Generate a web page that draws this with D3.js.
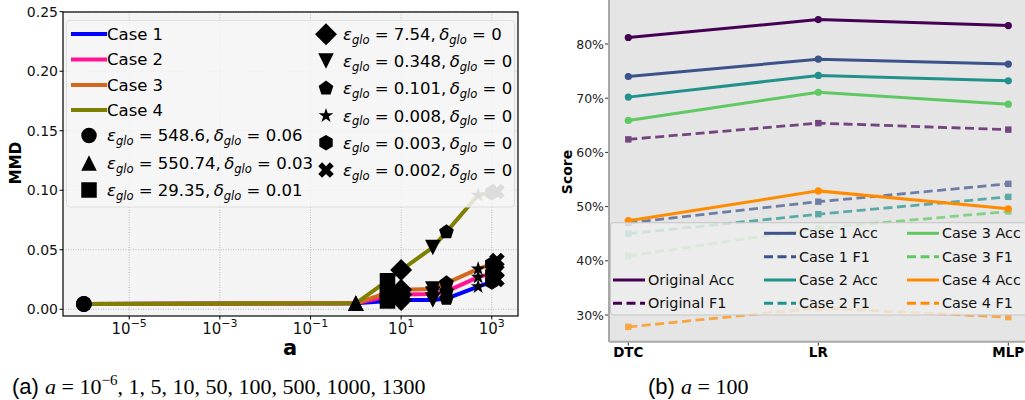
<!DOCTYPE html>
<html>
<head>
<meta charset="utf-8">
<script src="https://cdn.jsdelivr.net/npm/d3@7"></script>
<style>
  body { margin: 0; background: #fff; }
  svg { display: block; font-family: "DejaVu Sans", sans-serif; }
</style>
</head>
<body>
<svg id="chart" width="1025" height="400"></svg>
<script>
// ---- left panel: MMD vs a ----
const aValues = [1e-6, 1, 5, 10, 50, 100, 500, 1000, 1300];
const case1 = [0.0045, 0.005, 0.007, 0.0078, 0.0078, 0.009, 0.019, 0.023, 0.025];
const case2 = [0.0045, 0.005, 0.011, 0.0125, 0.0128, 0.015, 0.027, 0.030, 0.032];
const case3 = [0.0045, 0.005, 0.014, 0.0165, 0.017, 0.022, 0.034, 0.038, 0.041];
const case4 = [0.0045, 0.005, 0.024, 0.033, 0.052, 0.065, 0.096, 0.098, 0.099];
const caseNames = ['Case 1', 'Case 2', 'Case 3', 'Case 4'];
const markerTypes = ['circle', 'triangle', 'square', 'diamond', 'triangleDown', 'pentagon', 'star', 'hexagon', 'x'];
const epsLabels = ['548.6', '550.74', '29.35', '7.54', '0.348', '0.101', '0.008', '0.003', '0.002'];
const deltaLabels = ['0.06', '0.03', '0.01', '0', '0', '0', '0', '0', '0'];
const xTickExp = [-5, -3, -1, 1, 3];
const yTicksLeft = [0, 0.05, 0.10, 0.15, 0.20, 0.25];

// ---- right panel: scores at a = 100 ----
const models = ['DTC', 'LR', 'MLP'];
const groupNames = ['Original', 'Case 1', 'Case 2', 'Case 3', 'Case 4'];
const accOriginal = [81.2, 84.5, 83.4];
const f1Original = [62.4, 65.4, 64.2];
const accCase1 = [74.0, 77.2, 76.3];
const f1Case1 = [47.0, 50.9, 54.2];
const accCase2 = [70.2, 74.2, 73.2];
const f1Case2 = [45.0, 48.6, 51.8];
const accCase3 = [65.9, 71.1, 68.9];
const f1Case3 = [40.9, 46.0, 49.1];
const accCase4 = [47.4, 52.9, 49.6];
const f1Case4 = [27.8, 31.3, 29.6];
const yTicksRight = [30, 40, 50, 60, 70, 80];

const svg = d3.select('#chart');

// ================= left panel =================
const L = { x0: 63, x1: 518, y0: 12, y1: 316 };
const xL = d3.scaleLog().domain([1e-5, 1e3]).range([129.2, 491.8]);
const yL = d3.scaleLinear().domain([0, 0.25]).range([309.3, 11.7]);
const caseColors = ['#0000ff', '#ff1493', '#d2691e', '#808000'];

const left = svg.append('g');
left.append('rect').attr('x', L.x0).attr('y', L.y0).attr('width', L.x1 - L.x0).attr('height', L.y1 - L.y0)
  .attr('fill', '#f4f4f4');

// grid
xTickExp.forEach(e => {
  left.append('line').attr('x1', xL(Math.pow(10, e))).attr('x2', xL(Math.pow(10, e)))
    .attr('y1', L.y0).attr('y2', L.y1).attr('stroke', '#b0b0b0').attr('stroke-width', 0.8).attr('stroke-dasharray', '1,1.5');
});
yTicksLeft.forEach(v => {
  left.append('line').attr('x1', L.x0).attr('x2', L.x1).attr('y1', yL(v)).attr('y2', yL(v))
    .attr('stroke', '#b0b0b0').attr('stroke-width', 0.8).attr('stroke-dasharray', '1,1.5');
});

// marker shapes (s = marker width)
function poly(n, r, inner) {
  const pts = [];
  const k = inner ? 2 * n : n;
  for (let i = 0; i < k; i++) {
    const ang = i * 2 * Math.PI / k;
    const rr = inner && i % 2 ? r * inner : r;
    pts.push([rr * Math.sin(ang), -rr * Math.cos(ang)]);
  }
  return 'M' + pts.map(p => p[0].toFixed(2) + ',' + p[1].toFixed(2)).join('L') + 'Z';
}
function markerPath(type, s) {
  const h = s / 2;
  switch (type) {
    case 'circle': return d3.symbol(d3.symbolCircle, Math.PI * h * h)();
    case 'triangle': return `M0,${-h}L${h},${h}L${-h},${h}Z`;
    case 'triangleDown': return `M0,${h}L${h},${-h}L${-h},${-h}Z`;
    case 'square': return `M${-h},${-h}H${h}V${h}H${-h}Z`;
    case 'diamond': { const d = h * Math.SQRT2; return `M0,${-d}L${d},0L0,${d}L${-d},0Z`; }
    case 'pentagon': return poly(5, h);
    case 'star': return poly(5, h, 0.381966);
    case 'hexagon': return poly(6, h);
    case 'x': {
      const q = s / 4;
      const pts = [[-q, -h], [0, -q], [q, -h], [h, -q], [q, 0], [h, q], [q, h], [0, q], [-q, h], [-h, q], [-q, 0], [-h, -q]];
      return 'M' + pts.join('L') + 'Z';
    }
  }
}

// lines
const leftSeries = [case1, case2, case3, case4];
const lineL = d3.line().x((d, i) => xL(aValues[i])).y(d => yL(d));
leftSeries.forEach((s, k) => {
  left.append('path').datum(s).attr('d', lineL).attr('fill', 'none')
    .attr('stroke', caseColors[k]).attr('stroke-width', 4).attr('stroke-linejoin', 'round');
});
// markers
leftSeries.forEach((s, k) => {
  s.forEach((v, i) => {
    left.append('path').attr('d', markerPath(markerTypes[i], 15.5))
      .attr('transform', `translate(${xL(aValues[i])},${yL(v)})`)
      .attr('fill', k === 3 && i >= 6 ? '#4a4a4a' : '#000');
  });
});

// frame
left.append('rect').attr('x', L.x0).attr('y', L.y0).attr('width', L.x1 - L.x0).attr('height', L.y1 - L.y0)
  .attr('fill', 'none').attr('stroke', '#000').attr('stroke-width', 1.2);

// y axis
yTicksLeft.forEach(v => {
  left.append('line').attr('x1', L.x0 - 3.5).attr('x2', L.x0).attr('y1', yL(v)).attr('y2', yL(v)).attr('stroke', '#000');
  left.append('text').attr('x', L.x0 - 5).attr('y', yL(v)).attr('dy', '0.36em').attr('text-anchor', 'end')
    .attr('font-size', 14).attr('fill', '#111').text(d3.format('.2f')(v));
});
// x axis
xTickExp.forEach(e => {
  const x = xL(Math.pow(10, e));
  left.append('line').attr('x1', x).attr('x2', x).attr('y1', L.y1).attr('y2', L.y1 + 3.5).attr('stroke', '#000');
  const t = left.append('text').attr('x', x).attr('y', 334).attr('text-anchor', 'middle').attr('font-size', 15).attr('fill', '#111');
  t.append('tspan').text('10');
  t.append('tspan').attr('dy', -7.5).attr('font-size', 11).text(e < 0 ? '\u2212' + (-e) : String(e));
});
left.append('text').attr('transform', 'translate(21,163) rotate(-90)').attr('text-anchor', 'middle')
  .attr('font-size', 15).attr('font-weight', 'bold').text('MMD');
left.append('text').attr('x', 290).attr('y', 355).attr('text-anchor', 'middle')
  .attr('font-size', 21).attr('font-weight', 'bold').text('a');

// legend
const lg = left.append('g');
lg.append('rect').attr('x', 66.5).attr('y', 20.5).attr('width', 448).attr('height', 186.5).attr('rx', 3)
  .attr('fill', '#f6f6f6').attr('fill-opacity', 0.85).attr('stroke', '#dedede');
const lineRows = [34, 59.5, 85, 110];
caseNames.forEach((n, k) => {
  lg.append('line').attr('x1', 71).attr('x2', 107).attr('y1', lineRows[k]).attr('y2', lineRows[k])
    .attr('stroke', caseColors[k]).attr('stroke-width', 4);
  lg.append('text').attr('x', 107).attr('y', lineRows[k]).attr('dy', '0.36em').attr('font-size', 16.5).text(n);
});
function mathLabel(t, eps, delta, fs) {
  t.append('tspan').attr('font-style', 'italic').text('\u03b5');
  t.append('tspan').attr('font-style', 'italic').attr('font-size', fs * 0.7).attr('dy', fs * 0.22).text('glo');
  t.append('tspan').attr('dy', -fs * 0.22).text(' = ' + eps + ',\u2009');
  t.append('tspan').attr('font-style', 'italic').text('\u03b4');
  t.append('tspan').attr('font-style', 'italic').attr('font-size', fs * 0.7).attr('dy', fs * 0.22).text('glo');
  t.append('tspan').attr('dy', -fs * 0.22).text(' = ' + delta);
}
const markRowsA = [135.5, 163, 190];
const markRowsB = [34.3, 61, 88.3, 115.7, 142.7, 170];
markerTypes.forEach((m, i) => {
  const first = i < 3;
  const y = first ? markRowsA[i] : markRowsB[i - 3];
  const mx = first ? 89 : 326;
  const tx = first ? 107 : 343;
  lg.append('path').attr('d', markerPath(m, 15.5)).attr('transform', `translate(${mx},${y})`).attr('fill', '#000');
  const t = lg.append('text').attr('x', tx).attr('y', y).attr('dy', '0.36em').attr('font-size', 16.5);
  mathLabel(t, epsLabels[i], deltaLabels[i], 16.5);
});

// ================= right panel =================
const R = { x0: 609, x1: 1030, y0: -5, y1: 341.7 };
const xR = d3.scalePoint().domain(models).range([628.3, 1008.3]);
const yR = d3.scaleLinear().domain([30, 80]).range([315, 44]);
const groupColors = ['#440154', '#3b528b', '#21918c', '#5ec962', '#ff8c00'];
const accData = [accOriginal, accCase1, accCase2, accCase3, accCase4];
const f1Data = [f1Original, f1Case1, f1Case2, f1Case3, f1Case4];

const right = svg.append('g');
right.append('rect').attr('x', R.x0).attr('y', R.y0).attr('width', R.x1 - R.x0).attr('height', R.y1 - R.y0)
  .attr('fill', '#e5e5e5');

const lineR = d3.line().x((d, i) => xR(models[i])).y(d => yR(d));
groupNames.forEach((g, k) => {
  right.append('path').datum(accData[k]).attr('d', lineR).attr('fill', 'none')
    .attr('stroke', groupColors[k]).attr('stroke-width', 3);
  accData[k].forEach((v, i) => {
    right.append('circle').attr('cx', xR(models[i])).attr('cy', yR(v)).attr('r', 3.6).attr('fill', groupColors[k]);
  });
  const f = right.append('g').attr('opacity', 0.7);
  f.append('path').datum(f1Data[k]).attr('d', lineR).attr('fill', 'none')
    .attr('stroke', groupColors[k]).attr('stroke-width', 2.8).attr('stroke-dasharray', '9,4.5');
  f1Data[k].forEach((v, i) => {
    f.append('rect').attr('x', xR(models[i]) - 3.2).attr('y', yR(v) - 3.2).attr('width', 6.4).attr('height', 6.4)
      .attr('fill', groupColors[k]);
  });
});

// spines
right.append('line').attr('x1', R.x0).attr('x2', R.x0).attr('y1', 0).attr('y2', R.y1).attr('stroke', '#a8a8a8').attr('stroke-width', 2);
right.append('line').attr('x1', R.x0).attr('x2', R.x1).attr('y1', R.y1).attr('y2', R.y1).attr('stroke', '#a8a8a8').attr('stroke-width', 2);

yTicksRight.forEach(v => {
  right.append('line').attr('x1', R.x0 - 4).attr('x2', R.x0 - 1).attr('y1', yR(v)).attr('y2', yR(v)).attr('stroke', '#333');
  right.append('text').attr('x', R.x0 - 5).attr('y', yR(v)).attr('dy', '0.36em').attr('text-anchor', 'end')
    .attr('font-size', 12.5).attr('fill', '#222').text(v + '%');
});
models.forEach(m => {
  right.append('line').attr('x1', xR(m)).attr('x2', xR(m)).attr('y1', R.y1 + 1).attr('y2', R.y1 + 4).attr('stroke', '#333');
  right.append('text').attr('x', xR(m)).attr('y', 357).attr('text-anchor', 'middle')
    .attr('font-size', 13.5).attr('font-weight', 'bold').text(m);
});
right.append('text').attr('transform', 'translate(572,172) rotate(-90)').attr('text-anchor', 'middle')
  .attr('font-size', 14).attr('font-weight', 'bold').text('Score');

// legend
const rl = right.append('g');
rl.append('rect').attr('x', 610.5).attr('y', 222.7).attr('width', 430).attr('height', 92.3).attr('rx', 3)
  .attr('fill', '#eeeeee').attr('fill-opacity', 0.8).attr('stroke', '#c6c6c6');
const legRows = [233.3, 256.7, 280, 303.3];
const legCols = [613, 764, 907];
const legendItems = [];
groupNames.forEach((g, k) => {
  legendItems.push({ label: g + ' Acc', color: groupColors[k], dash: false });
  legendItems.push({ label: g + ' F1', color: groupColors[k], dash: true });
});
// column 1 holds Original in its lower two rows; columns 2 and 3 hold the cases
const slots = [[0, 2], [0, 3], [1, 0], [1, 1], [1, 2], [1, 3], [2, 0], [2, 1], [2, 2], [2, 3]];
legendItems.forEach((it, i) => {
  const [c, r] = slots[i];
  const x = legCols[c], y = legRows[r];
  rl.append('line').attr('x1', x).attr('x2', x + 32).attr('y1', y).attr('y2', y)
    .attr('stroke', it.color).attr('stroke-width', 3).attr('stroke-dasharray', it.dash ? '9,4.5' : null);
  rl.append('text').attr('x', x + 35).attr('y', y).attr('dy', '0.36em').attr('font-size', 14.4).attr('fill', '#111').text(it.label);
});

// ================= captions =================
function caption(x, tag, parts) {
  const t = svg.append('text').attr('x', x).attr('y', 394).attr('font-size', 22);
  t.append('tspan').attr('font-family', '"Liberation Sans", sans-serif').text(tag + ' ');
  t.append('tspan').attr('font-family', '"Liberation Serif", serif').attr('font-style', 'italic').text('a');
  parts.forEach(p => {
    const s = t.append('tspan').attr('font-family', '"Liberation Serif", serif');
    if (p.sup) s.attr('dy', -9).attr('font-size', 15).text(p.text);
    else s.attr('dy', p.down ? 9 : 0).text(p.text);
  });
}
caption(12, '(a)', [{ text: ' = 10' }, { text: '\u22126', sup: true }, { text: ', 1, 5, 10, 50, 100, 500, 1000, 1300', down: true }]);
caption(648, '(b)', [{ text: ' = 100' }]);
</script>
</body>
</html>
